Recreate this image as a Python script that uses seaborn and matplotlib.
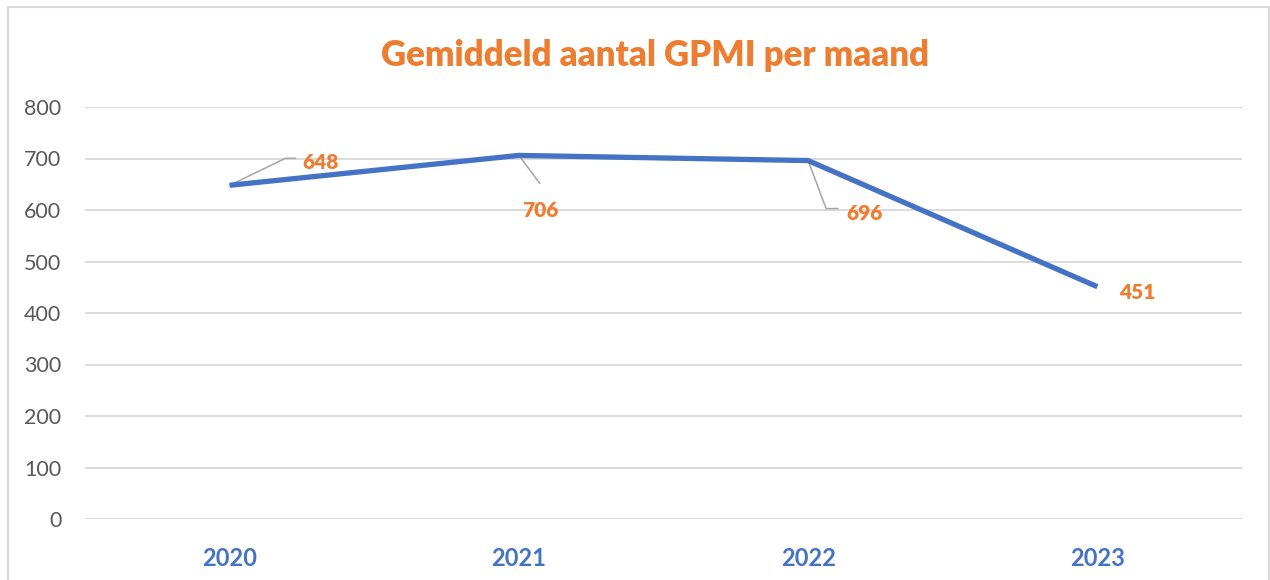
import matplotlib.pyplot as plt
import seaborn as sns
import pandas as pd
from matplotlib.patches import Rectangle

# Data
years = ["2020", "2021", "2022", "2023"]
values = [648, 706, 696, 451]
y_ticks = [0, 100, 200, 300, 400, 500, 600, 700, 800]

# label offsets (pixels) and leader line vertices (pixels) relative to each point
label_offsets = [(91, 23), (21, -55), (56, -53), (40, -6)]
leaders = [
  [(0, 0), (56, 27), (66, 27)],
  [(0, 0), (21, -28)],
  [(0, 0), (18, -48), (30, -48)],
  None,
]

blue = "#4472C4"
orange = "#ED7D31"

sns.set_style("white")
plt.rcParams["font.family"] = ["Lato", "DejaVu Sans"]

df = pd.DataFrame({"year": years, "value": values})

fig = plt.figure(figsize=(12.7, 5.8), dpi=100)
ax = fig.add_axes([85 / 1270, 1 - 519 / 580, (1242 - 85) / 1270, (519 - 107) / 580])

sns.lineplot(data=df, x="year", y="value", ax=ax, color=blue, linewidth=3.8,
             sort=False, solid_capstyle="butt")

ax.set_xlim(-0.5, len(years) - 0.5)
ax.set_ylim(0, 800)
ax.set_yticks(y_ticks)
ax.yaxis.grid(True, color="#D9D9D9", linewidth=1.3)
ax.xaxis.grid(False)
for s in ax.spines.values():
  s.set_visible(False)
ax.set_xlabel("")
ax.set_ylabel("")
ax.tick_params(axis="y", labelsize=15.5, labelcolor="#595959", length=0, pad=17)
ax.tick_params(axis="x", labelsize=17, labelcolor=blue, length=0, pad=20)
for lbl in ax.get_xticklabels():
  lbl.set_fontweight("bold")

# Data labels with leader lines
fig.canvas.draw()
for i, (v, off, lead) in enumerate(zip(values, label_offsets, leaders)):
  px, py = ax.transData.transform((i, v))
  if lead is not None:
    xs = [px + dx for dx, dy in lead]
    ys = [py + dy for dx, dy in lead]
    ax.plot(xs, ys, transform=None, color="#A5A5A5", linewidth=1.1, zorder=1)
  ax.annotate(str(v), xy=(i, v), xytext=off, textcoords="offset pixels",
              ha="center", va="center", fontsize=15, fontweight="heavy",
              color=orange)

fig.text(655 / 1270, 1 - 55 / 580, "Gemiddeld aantal GPMI per maand",
         ha="center", va="center", fontsize=25, fontweight="heavy", color=orange)

# chart border
fig.patches.append(Rectangle((8 / 1270, -0.05), 1261 / 1270, 1.05 - 7 / 580,
                             transform=fig.transFigure, fill=False,
                             edgecolor="#D9D9D9", linewidth=1.5))

fig.savefig("out.png", dpi=100)
